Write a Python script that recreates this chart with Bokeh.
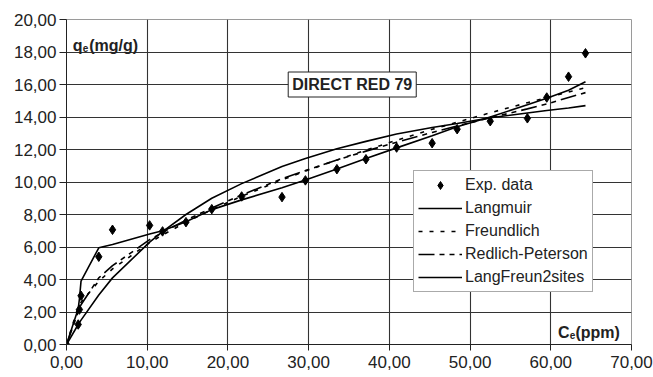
from bokeh.plotting import figure
from bokeh.models import (Range1d, FixedTicker, CustomJSTickFormatter, Label,
                          Legend, LegendItem)
from bokeh.embed import file_html
from bokeh.resources import INLINE

# ---- data ----
ce = [0, 1.45, 1.6, 1.8, 4.0, 5.7, 10.3, 11.9, 14.8, 18.0, 21.7, 26.7, 29.6,
      33.5, 37.1, 40.9, 45.3, 48.4, 52.5, 57.1, 59.5, 62.2, 64.3]
qe_exp = [0, 1.23, 2.15, 3.0, 5.4, 7.06, 7.33, 6.96, 7.53, 8.33, 9.11, 9.07,
          10.1, 10.79, 11.4, 12.12, 12.39, 13.25, 13.74, 13.92, 15.2, 16.48, 17.92]
langmuir = [0, 1.23, 1.35, 1.5, 3.05, 4.1, 6.3, 6.95, 8.0, 9.0, 9.9, 10.95,
            11.45, 12.05, 12.5, 12.95, 13.35, 13.6, 13.95, 14.25, 14.4, 14.55, 14.7]
freundlich = [0, 2.33, 2.45, 2.6, 3.89, 4.65, 6.27, 6.74, 7.52, 8.3, 9.12, 10.13,
              10.67, 11.36, 11.96, 12.57, 13.24, 13.68, 14.26, 14.88, 15.19, 15.53, 15.8]
redlich = [0, 2.0, 2.2, 2.45, 4.1, 4.85, 6.45, 6.9, 7.65, 8.4, 9.2, 10.2,
           10.7, 11.35, 11.9, 12.45, 13.05, 13.45, 13.95, 14.5, 14.8, 15.2, 15.5]
langfreun = [0, 2.2, 2.8, 3.9, 5.95, 6.15, 6.8, 7.0, 7.55, 8.3, 8.9, 9.65,
             10.13, 10.8, 11.45, 12.1, 12.85, 13.4, 14.0, 14.75, 15.15, 15.65, 16.17]

x_ticks = [0, 10, 20, 30, 40, 50, 60, 70]
y_ticks = [0, 2, 4, 6, 8, 10, 12, 14, 16, 18, 20]
title_text = "DIRECT RED 79"
legend_labels = ["Exp. data", "Langmuir", "Freundlich", "Redlich-Peterson", "LangFreun2sites"]

FONT = "Liberation Sans"

p = figure(width=653, height=377, output_backend="svg", toolbar_location=None,
           x_range=Range1d(0, 70), y_range=Range1d(0, 20),
           min_border_left=66, min_border_right=22, min_border_top=19,
           min_border_bottom=33)
p.background_fill_color = "white"
p.border_fill_color = "white"
p.outline_line_color = "#9a9a9a"
p.outline_line_width = 1

fmt = CustomJSTickFormatter(code="return tick.toFixed(2).replace('.', ',');")
for ax, ticks in ((p.xaxis, x_ticks), (p.yaxis, y_ticks)):
    ax.ticker = FixedTicker(ticks=ticks)
    ax.formatter = fmt
    ax.major_label_text_font = FONT
    ax.major_label_text_font_size = "17px"
    ax.major_label_text_color = "#222222"
    ax.axis_line_color = "#222222"
    ax.major_tick_line_color = "#222222"
    ax.minor_tick_line_color = None
    ax.major_tick_in = 0
p.xaxis.major_tick_out = 6
p.xaxis.major_label_standoff = 5
p.yaxis.major_tick_out = 7
p.yaxis.major_label_standoff = 3

p.grid.grid_line_color = "#333333"
p.grid.grid_line_width = 1.1
p.xgrid.ticker = FixedTicker(ticks=x_ticks)
p.ygrid.ticker = FixedTicker(ticks=y_ticks)

lw = 1.6
r_l = p.line(ce, langmuir, line_color="black", line_width=lw)
r_f = p.line(ce, freundlich, line_color="black", line_width=lw, line_dash="4 7")
r_r = p.line(ce, redlich, line_color="black", line_width=lw, line_dash="16 5 5 5 5 5")
r_lf = p.line(ce, langfreun, line_color="black", line_width=lw)
r_e = p.scatter(ce, qe_exp, marker="diamond", size=9.5, fill_color="black",
                line_color="black")

legend = Legend(items=[
    LegendItem(label=legend_labels[0], renderers=[r_e]),
    LegendItem(label=legend_labels[1], renderers=[r_l]),
    LegendItem(label=legend_labels[2], renderers=[r_f]),
    LegendItem(label=legend_labels[3], renderers=[r_r]),
    LegendItem(label=legend_labels[4], renderers=[r_lf]),
], location=(347, 52))
legend.label_text_font = FONT
legend.label_text_font_size = "16px"
legend.label_text_color = "#222222"
legend.glyph_width = 44
legend.glyph_height = 20
legend.label_height = 20
legend.label_standoff = 3
legend.spacing = 3
legend.padding = 4
legend.margin = 0
legend.border_line_color = "#555555"
legend.border_line_width = 1
legend.background_fill_color = "white"
legend.background_fill_alpha = 1
p.add_layout(legend)

# title box
p.add_layout(Label(x=35.4, y=16.0, text=title_text, text_font=FONT,
                   text_font_size="16px", text_font_style="bold",
                   text_color="#222222", text_align="center",
                   text_baseline="middle", background_fill_color="white",
                   border_line_color="#222222", border_line_width=1,
                   padding=4))

# axis titles inside the plot
def lab(x, y, t, size, dx=0, dy=0):
    p.add_layout(Label(x=x, y=y, text=t, x_offset=dx, y_offset=dy,
                       text_font=FONT, text_font_size=size,
                       text_font_style="bold", text_color="#222222",
                       text_baseline="alphabetic"))

lab(0.77, 18.37, "q", "16px")
lab(0.77, 18.37, "e", "10px", dx=10, dy=-2)
lab(0.77, 18.37, "(mg/g)", "16px", dx=16.5)
lab(60.9, 0.72, "C", "16px")
lab(60.9, 0.72, "e", "10px", dx=11.6, dy=-2)
lab(60.9, 0.72, "(ppm)", "16px", dx=17.4)

open("out.html", "w").write(file_html(p, INLINE))
